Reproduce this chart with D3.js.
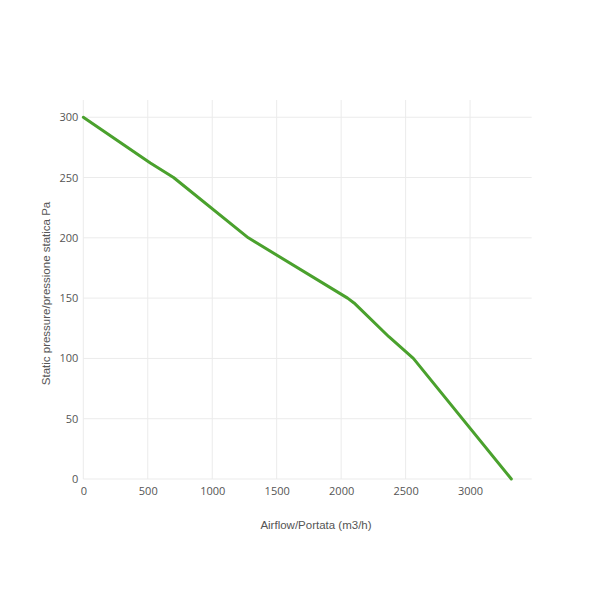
<!DOCTYPE html>
<html><head><meta charset="utf-8">
<script src="https://cdn.jsdelivr.net/npm/d3@7"></script>
<style>body{margin:0;background:#fff}svg{display:block}</style>
</head><body>
<script>
const airflow = [0, 520, 700, 1280, 2050, 2100, 2370, 2560, 3320];
const pressure = [300, 262, 250, 200, 150, 146, 118, 100, 0];
const xTicks = [0, 500, 1000, 1500, 2000, 2500, 3000];
const yTicks = [0, 50, 100, 150, 200, 250, 300];
const xTitle = "Airflow/Portata (m3/h)";
const yTitle = "Static pressure/pressione statica Pa";

(function () {
const W = 589, H = 589;
const svg = d3.select("body").append("svg").attr("width", W).attr("height", H);
const mLeft = 83.3, mRight = 531.7, mTop = 100, mBottom = 479;
const x = d3.scaleLinear().domain([0, 3478]).range([mLeft, mRight]);
const y = d3.scaleLinear().domain([0, 314.3]).range([mBottom, mTop]);

const font = "'Liberation Sans', Arial, sans-serif";
const tickFont = "'Open Sans', sans-serif";
// grid
svg.append("g").selectAll("line").data(xTicks).join("line")
  .attr("x1", d => x(d)).attr("x2", d => x(d)).attr("y1", mTop).attr("y2", mBottom)
  .attr("stroke", "#ebebeb").attr("stroke-width", 1);
svg.append("g").selectAll("line").data(yTicks).join("line")
  .attr("y1", d => y(d)).attr("y2", d => y(d)).attr("x1", mLeft).attr("x2", mRight)
  .attr("stroke", "#ebebeb").attr("stroke-width", 1);

// axes (labels only)
const xAxis = svg.append("g").attr("transform", `translate(0,${mBottom})`)
  .call(d3.axisBottom(x).tickValues(xTicks).tickSize(0).tickPadding(8).tickFormat(d3.format("d")));
const yAxis = svg.append("g").attr("transform", `translate(${mLeft},0)`)
  .call(d3.axisLeft(y).tickValues(yTicks).tickSize(0).tickPadding(5).tickFormat(d3.format("d")));
[xAxis, yAxis].forEach(a => {
  a.select(".domain").remove();
  a.selectAll("text").attr("fill", "#555").style("font-family", tickFont).style("font-size", "11px");
});

// line
const pts = airflow.map((a, i) => [a, pressure[i]]);
svg.append("path").datum(pts)
  .attr("d", d3.line().x(d => x(d[0])).y(d => y(d[1])))
  .attr("fill", "none").attr("stroke", "#4aa12d").attr("stroke-width", 3)
  .attr("stroke-linejoin", "round").attr("stroke-linecap", "round");

// titles
svg.append("text").attr("x", 316).attr("y", 529).attr("text-anchor", "middle")
  .attr("fill", "#555").style("font-family", font).style("font-size", "11.5px").text(xTitle);
svg.append("text").attr("transform", `translate(50,${(mTop + mBottom) / 2 + 4}) rotate(-90)`)
  .attr("text-anchor", "middle").attr("fill", "#555")
  .style("font-family", font).style("font-size", "11.5px").text(yTitle);
})();
</script>
</body></html>
